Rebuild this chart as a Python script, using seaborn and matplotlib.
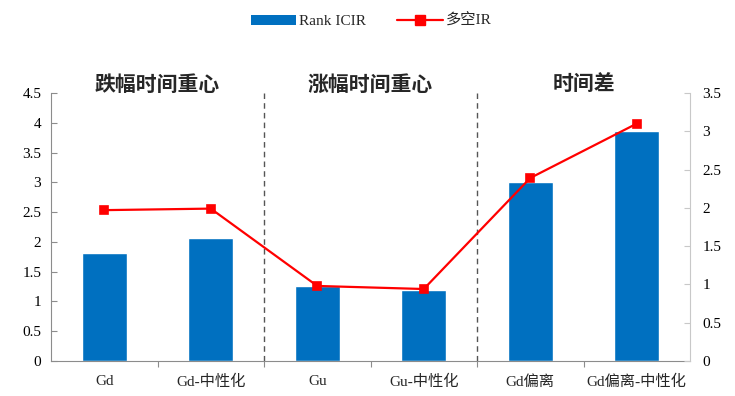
import matplotlib
matplotlib.use("Agg")
import matplotlib.pyplot as plt
from matplotlib.lines import Line2D
from matplotlib.patches import Patch
import seaborn as sns
import pandas as pd

# === Data ===
categories = ["Gd", "Gd-中性化", "Gu", "Gu-中性化", "Gd偏离", "Gd偏离-中性化"]
rank_icir = [1.82, 2.06, 1.26, 1.19, 3.00, 3.86]
long_short_ir = [1.97, 1.99, 0.98, 0.94, 2.39, 3.10]
sections = ["跌幅时间重心", "涨幅时间重心", "时间差"]

BAR_COLOR = "#0070C0"
LINE_COLOR = "#FF0000"
FONTS = ["Liberation Serif", "Noto Sans CJK SC", "DejaVu Sans"]

sns.set_style("white")
plt.rcParams["font.family"] = FONTS

df = pd.DataFrame({"cat": categories, "icir": rank_icir, "ir": long_short_ir})

fig = plt.figure(figsize=(7.35, 3.96), dpi=100)
ax = fig.add_axes([0.0694, 0.0884, 0.8694, 0.6768])

sns.barplot(data=df, x="cat", y="icir", color=BAR_COLOR, saturation=1,
            width=0.42, ax=ax)
ax.set_ylim(0, 4.5)
ax.set_yticks([i * 0.5 for i in range(10)])
ax.set_yticklabels(["0", "0.5", "1", "1.5", "2", "2.5", "3", "3.5", "4", "4.5"])
ax.set_xlim(-0.5, len(categories) - 0.5)
ax.set_xlabel("")
ax.set_ylabel("")

ax2 = ax.twinx()
sns.pointplot(data=df, x="cat", y="ir", color=LINE_COLOR, markers="s",
              markersize=6, linewidth=1.6, ax=ax2)
ax2.set_ylim(0, 3.5)
ax2.set_yticks([i * 0.5 for i in range(8)])
ax2.set_yticklabels(["0", "0.5", "1", "1.5", "2", "2.5", "3", "3.5"])
ax2.set_xlim(-0.5, len(categories) - 0.5)
ax2.set_ylabel("")
ax2.set_xlabel("")

for a in (ax, ax2):
    for s in a.spines.values():
        s.set_visible(False)

ax.spines["left"].set_visible(True)
ax.spines["left"].set_color("#8c8c8c")
ax.spines["bottom"].set_visible(True)
ax.spines["bottom"].set_color("#8c8c8c")
ax2.spines["right"].set_visible(True)
ax2.spines["right"].set_color("#c8c8c8")
ax.tick_params(axis="y", colors="#8c8c8c", labelcolor="black", left=True,
               direction="in", length=4, width=0.8, labelsize=11, pad=7)
ax2.tick_params(axis="y", colors="#c8c8c8", labelcolor="black", right=True,
                direction="in", length=4, width=0.8, labelsize=11, pad=9)

# x tick labels, boundary ticks
ax.set_xticks(range(len(categories)), minor=False)
ax.set_xticklabels(categories)
ax.tick_params(axis="x", length=0, labelsize=11, pad=10)
ax.set_xticks([i + 0.5 for i in range(len(categories) - 1)], minor=True)
ax.tick_params(axis="x", which="minor", length=4, color="#8c8c8c", width=0.8,
               direction="out", bottom=True)
ax2.tick_params(axis="x", length=0)

# section dividers and titles
for b in (1.5, 3.5):
    ax.axvline(b, color="#555555", linestyle=(0, (4, 3)), linewidth=1.0)
for i, name in enumerate(sections):
    ax.text(0.5 + 2 * i, 4.65, name, ha="center", va="center", fontsize=15,
            fontweight="bold", family=["Noto Sans CJK SC", "DejaVu Sans"])

handles = [Patch(facecolor=BAR_COLOR, edgecolor="none", label="Rank ICIR"),
           Line2D([0], [0], color=LINE_COLOR, marker="s", markersize=7,
                  linewidth=1.6, label="多空IR")]
fig.legend(handles=handles, loc="center", bbox_to_anchor=(0.505, 0.947),
           ncol=2, frameon=False, fontsize=11, handlelength=3.0,
           handleheight=0.6, columnspacing=2.0, handletextpad=0.2)

fig.savefig("out.png", dpi=100)
